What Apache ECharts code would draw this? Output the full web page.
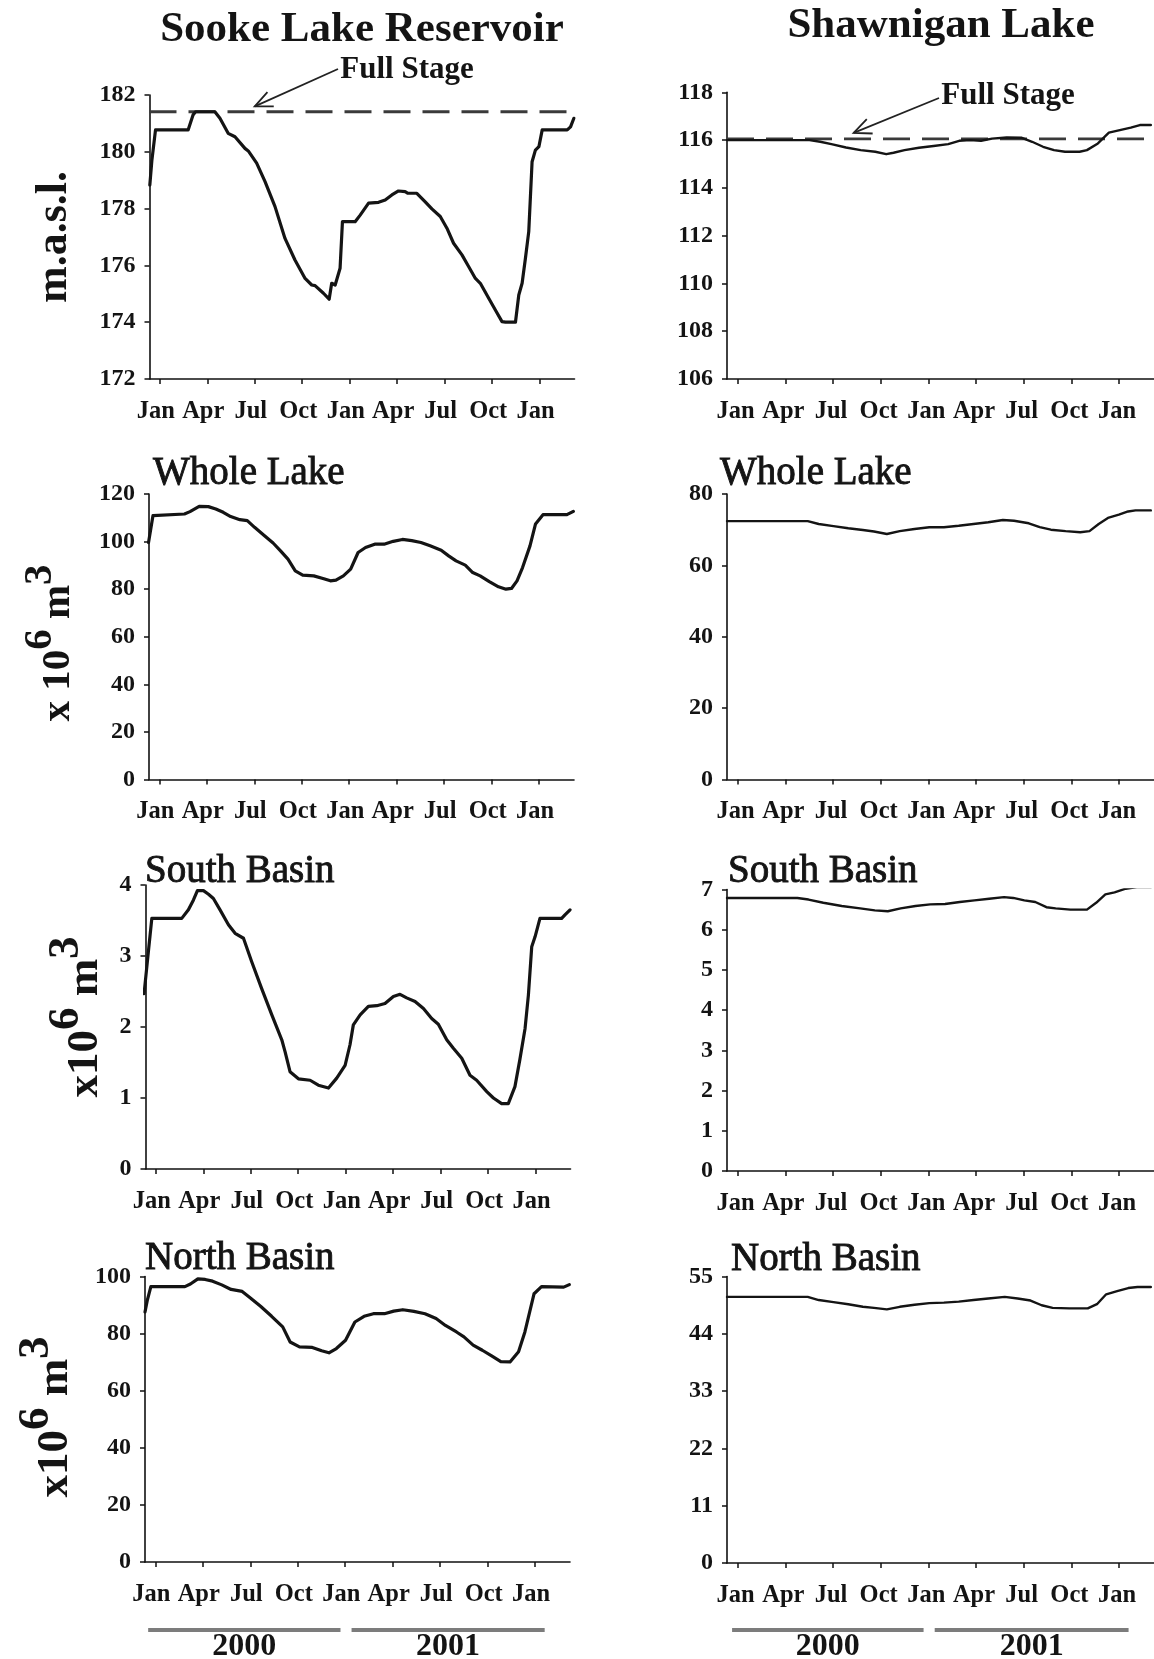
<!DOCTYPE html>
<html>
<head>
<meta charset="utf-8">
<title>Sooke Lake Reservoir and Shawnigan Lake</title>
<script src="https://cdn.jsdelivr.net/npm/echarts@6/dist/echarts.min.js"></script>
<style>
  html, body { margin: 0; padding: 0; background: #fff; }
  #chart { width: 1154px; height: 1659px; }
</style>
</head>
<body>
<div id="chart"></div>
<script>
// ---- axis tick labels (months since 1 Jan 2000) ----
const monthTicks = [0, 3, 6, 9, 12, 15, 18, 21, 24];
const monthLabels = ['Jan', 'Apr', 'Jul', 'Oct', 'Jan', 'Apr', 'Jul', 'Oct', 'Jan'];
const yearLabels = ['2000', '2001'];

// ---- full stage levels (m a.s.l.) ----
const sookeFullStage = 181.41;
const shawFullStage = 116.05;

// ---- Sooke Lake Reservoir: [month, value] ----
const sookeLevel = [
  [-0.63,178.83],[-0.5,179.7],[-0.27,180.77],[1.79,180.77],[2.1,181.3],[2.26,181.41],[3.48,181.41],
  [3.8,181.18],[4.32,180.65],[4.75,180.53],[5.38,180.12],[5.59,180.03],[6.12,179.6],[6.65,178.95],
  [7.28,178.07],[7.91,176.95],[8.54,176.19],[9.18,175.54],[9.6,175.31],[9.81,175.29],[10.34,175.02],
  [10.7,174.81],[10.86,175.37],[11.08,175.31],[11.39,175.9],[11.54,177.54],[12.34,177.54],[12.66,177.77],
  [13.19,178.19],[13.82,178.22],[14.24,178.3],[14.66,178.48],[15.08,178.62],[15.5,178.6],[15.68,178.54],
  [16.24,178.54],[16.77,178.24],[17.19,177.99],[17.72,177.72],[18.14,177.31],[18.56,176.78],[19.09,176.37],
  [19.51,175.96],[19.94,175.54],[20.25,175.37],[20.78,174.84],[21.2,174.43],[21.62,174.02],[21.84,174.0],
  [22.47,174.0],[22.68,174.96],[22.89,175.37],[23.1,176.25],[23.31,177.19],[23.52,179.65],[23.73,180.06],
  [23.95,180.18],[24.16,180.77],[25.74,180.77],[25.95,180.88],[26.16,181.18]
];
const sookeWhole = [
  [-0.68,99.6],[-0.4,110.9],[-0.28,111.6],[1.59,111.6],[1.94,112.6],[2.52,114.8],[3.1,114.7],[3.57,113.7],
  [4.04,112.3],[4.51,110.5],[5.09,109.2],[5.56,108.8],[6.02,106.0],[6.61,102.7],[7.19,99.4],[7.66,96.1],
  [8.13,92.6],[8.59,87.7],[9.06,85.9],[9.76,85.6],[10.34,84.5],[10.81,83.5],[11.16,83.8],[11.63,85.6],
  [12.09,88.4],[12.56,95.4],[13.03,97.5],[13.61,98.9],[14.2,98.9],[14.78,100.1],[15.36,100.9],[15.95,100.4],
  [16.53,99.6],[17.11,98.2],[17.81,96.4],[18.28,94.0],[18.75,91.9],[19.33,90.1],[19.8,87.0],[20.27,85.6],
  [20.85,83.2],[21.43,81.0],[21.9,80.0],[22.25,80.3],[22.6,83.5],[22.95,89.1],[23.42,98.2],[23.77,107.4],
  [24.24,111.3],[25.75,111.3],[26.16,112.7]
];
const sookeSouth = [
  [-0.74,2.47],[-0.46,3.08],[-0.25,3.53],[1.64,3.53],[2.06,3.65],[2.38,3.79],[2.63,3.92],[3.01,3.92],
  [3.33,3.87],[3.64,3.81],[4.06,3.65],[4.59,3.44],[5.01,3.32],[5.54,3.25],[6.06,2.92],[6.69,2.54],
  [7.33,2.17],[7.96,1.82],[8.17,1.65],[8.48,1.37],[9.01,1.27],[9.75,1.25],[10.27,1.18],[10.91,1.14],
  [11.43,1.28],[11.96,1.46],[12.27,1.75],[12.48,2.03],[12.91,2.17],[13.43,2.29],[13.96,2.30],[14.48,2.33],
  [15.01,2.43],[15.43,2.46],[15.85,2.41],[16.38,2.36],[16.91,2.26],[17.43,2.12],[17.85,2.04],[18.38,1.82],
  [18.8,1.70],[19.33,1.56],[19.85,1.32],[20.27,1.25],[20.91,1.09],[21.33,1.00],[21.85,0.92],[22.27,0.92],
  [22.69,1.16],[23.0,1.54],[23.33,1.98],[23.54,2.45],[23.75,3.13],[23.96,3.27],[24.27,3.53],[25.64,3.53],
  [25.85,3.58],[26.17,3.65]
];
const sookeNorth = [
  [-0.65,87.6],[-0.51,91.6],[-0.28,96.5],[1.87,96.5],[2.22,97.4],[2.69,99.2],[3.15,99.0],[3.62,98.4],
  [4.2,97.1],[4.79,95.5],[5.49,94.8],[5.95,92.8],[6.65,89.6],[7.35,86.1],[8.05,82.4],[8.52,77.1],
  [9.11,75.4],[9.92,75.2],[10.51,74.0],[10.97,73.3],[11.44,74.8],[12.02,77.7],[12.61,84.1],[13.19,86.1],
  [13.78,87.0],[14.48,87.0],[15.06,87.9],[15.64,88.4],[16.34,87.8],[17.04,87.0],[17.74,85.3],[18.33,82.9],
  [19.03,80.6],[19.5,78.9],[20.08,76.0],[20.66,74.2],[21.25,72.2],[21.83,70.2],[22.41,70.1],[22.95,73.7],
  [23.35,80.6],[23.93,94.0],[24.4,96.5],[25.8,96.3],[26.16,97.2]
];

// ---- Shawnigan Lake: [month, value] ----
const shawLevel = [
  [-0.67,116.0],[4.52,116.0],[5.2,115.93],[5.9,115.83],[6.82,115.69],[7.74,115.58],[8.66,115.51],
  [9.35,115.41],[9.81,115.47],[10.5,115.58],[11.41,115.68],[12.33,115.75],[13.25,115.83],[13.94,115.97],
  [14.63,116.0],[15.32,115.97],[16.01,116.06],[16.93,116.11],[17.85,116.10],[18.53,115.93],[19.22,115.72],
  [19.91,115.58],[20.6,115.51],[21.52,115.51],[21.98,115.58],[22.67,115.86],[23.36,116.31],[24.05,116.42],
  [24.74,116.52],[25.31,116.63],[26.0,116.63]
];
const shawWhole = [
  [-0.67,72.4],[4.41,72.4],[5.1,71.6],[6.03,71.0],[6.96,70.4],[7.88,69.9],[8.58,69.5],[9.39,68.8],
  [10.2,69.6],[11.13,70.2],[12.06,70.7],[12.98,70.7],[13.91,71.1],[14.84,71.6],[15.77,72.1],[16.69,72.7],
  [17.39,72.5],[18.32,71.8],[19.01,70.7],[19.71,70.0],[20.64,69.6],[21.56,69.3],[22.14,69.6],[22.72,71.6],
  [23.3,73.3],[23.99,74.2],[24.57,75.1],[25.04,75.4],[26.0,75.4]
];
const shawSouth = [
  [-0.67,6.79],[3.76,6.79],[4.46,6.75],[5.39,6.67],[6.55,6.59],[7.71,6.53],[8.63,6.48],[9.45,6.46],
  [10.26,6.53],[11.19,6.59],[12.12,6.63],[13.05,6.64],[13.98,6.69],[14.9,6.73],[15.83,6.77],[16.76,6.81],
  [17.34,6.79],[18.04,6.73],[18.73,6.69],[19.43,6.56],[20.01,6.53],[20.94,6.50],[21.98,6.50],[22.56,6.67],
  [23.14,6.88],[23.72,6.93],[24.42,7.02],[25.12,7.06],[26.0,7.06]
];
const shawNorth = [
  [-0.67,51.1],[4.41,51.1],[5.1,50.5],[6.03,50.1],[6.96,49.7],[7.88,49.2],[8.58,49.0],[9.39,48.7],
  [10.2,49.2],[11.13,49.6],[12.06,49.9],[12.98,50.0],[13.91,50.2],[14.84,50.5],[15.77,50.8],[16.81,51.1],
  [17.62,50.8],[18.43,50.4],[19.13,49.5],[19.82,49.0],[20.87,48.9],[22.03,48.9],[22.61,49.7],[23.19,51.6],
  [23.88,52.2],[24.58,52.8],[25.16,53.0],[26.0,53.0]
];

// ---- layout ----
const FONT = '"Liberation Serif","Times New Roman",serif';
const INK = '#141414';

const panels = [
  // left column: Sooke Lake Reservoir
  { box: { left: 149.5, top: 95,     width: 425, height: 284   }, x: [-0.65, 26.2], y: [172, 182, 2], data: sookeLevel, lw: 3.2, pad: 8 },
  { box: { left: 149,   top: 494,    width: 425, height: 285.5 }, x: [-0.65, 26.2], y: [0, 120, 20],   data: sookeWhole, lw: 3.2, pad: 8 },
  { box: { left: 145.5, top: 885,    width: 425, height: 284   }, x: [-0.65, 26.2], y: [0, 4, 1],      data: sookeSouth, lw: 3.2, pad: 8 },
  { box: { left: 145,   top: 1276.6, width: 425, height: 285.5 }, x: [-0.65, 26.2], y: [0, 100, 20],   data: sookeNorth, lw: 3.2, pad: 8 },
  // right column: Shawnigan Lake
  { box: { left: 727, top: 92.3,   width: 428, height: 286.7 }, x: [-0.67, 26.2], y: [106, 118, 2], data: shawLevel, lw: 2.4, pad: 4 },
  { box: { left: 727, top: 494,    width: 428, height: 285.5 }, x: [-0.67, 26.2], y: [0, 80, 20],   data: shawWhole, lw: 2.4, pad: 4 },
  { box: { left: 727, top: 889.5,  width: 428, height: 281.5 }, x: [-0.67, 26.2], y: [0, 7, 1],     data: shawSouth, lw: 2.4, pad: 4 },
  { box: { left: 727, top: 1276.6, width: 428, height: 286.4 }, x: [-0.67, 26.2], y: [0, 55, 11],   data: shawNorth, lw: 2.4, pad: 4 }
];

const axisLine = { show: true, onZero: false, lineStyle: { color: '#111', width: 1.6 } };
const axisTick = { show: true, inside: false, length: 5, lineStyle: { color: '#111', width: 1.5 } };

const grid = [], xAxis = [], yAxis = [], series = [];
panels.forEach((p, i) => {
  grid.push(Object.assign({ containLabel: false }, p.box));
  xAxis.push({
    type: 'value', gridIndex: i, min: p.x[0], max: p.x[1],
    axisLine, splitLine: { show: false },
    axisTick: Object.assign({ customValues: monthTicks }, axisTick),
    axisLabel: {
      customValues: monthTicks, margin: 20, padding: [0, p.pad, 0, 0],
      color: INK, fontFamily: FONT, fontWeight: 'bold', fontSize: 24.5,
      formatter: v => monthLabels[monthTicks.indexOf(Math.round(v))]
    }
  });
  yAxis.push({
    type: 'value', gridIndex: i, min: p.y[0], max: p.y[1], interval: p.y[2],
    axisLine, axisTick, splitLine: { show: false },
    axisLabel: { margin: 14, color: INK, fontFamily: FONT, fontWeight: 'bold', fontSize: 24 }
  });
  series.push({
    type: 'line', xAxisIndex: i, yAxisIndex: i, data: p.data,
    symbol: 'none', smooth: false, z: 3,
    lineStyle: { color: INK, width: p.lw, join: 'round', cap: 'round' }
  });
});

// full stage reference lines
series.push({
  type: 'line', xAxisIndex: 0, yAxisIndex: 0, symbol: 'none', z: 2,
  data: [[-0.65, sookeFullStage], [26.2, sookeFullStage]],
  lineStyle: { color: '#3a3a3a', width: 2.8, type: [27, 12] }
});
series.push({
  type: 'line', xAxisIndex: 4, yAxisIndex: 4, symbol: 'none', z: 2,
  data: [[-0.67, shawFullStage], [26.2, shawFullStage]],
  lineStyle: { color: '#3a3a3a', width: 2.6, type: [27, 12] }
});

const chart = echarts.init(document.getElementById('chart'), null, { renderer: 'canvas' });
chart.setOption({ animation: false, backgroundColor: '#fff', grid, xAxis, yAxis, series });

// ---- annotations ----
function px(gi, x, y) { return chart.convertToPixel({ gridIndex: gi }, [x, y]); }

function text(x, y, str, size, weight, align, heavy) {
  const style = { text: str, fill: INK, fontFamily: FONT, fontSize: size, fontWeight: weight,
                  align: align || 'center', verticalAlign: 'middle' };
  if (heavy) { style.stroke = INK; style.lineWidth = heavy; }
  return { type: 'text', x, y, z: 10, style };
}

function unitLabel(x, y, lead, size, raise) {
  return { type: 'text', x, y, rotation: Math.PI / 2, z: 10,
    style: {
      text: '{b|' + lead + '}{s|6}{b| m}{s|3}',
      align: 'center', verticalAlign: 'middle', fill: INK,
      rich: {
        b: { fontFamily: FONT, fontWeight: 'bold', fontSize: size, lineHeight: size + raise, verticalAlign: 'bottom', fill: INK },
        s: { fontFamily: FONT, fontWeight: 'bold', fontSize: size, lineHeight: size, verticalAlign: 'top', fill: INK }
      }
    } };
}

function arrow(tail, tip) {
  const dx = tail[0] - tip[0], dy = tail[1] - tip[1];
  const len = Math.hypot(dx, dy), ux = dx / len, uy = dy / len;
  const wing = 19, a = 24 * Math.PI / 180;
  const w1 = [tip[0] + wing * (ux * Math.cos(a) - uy * Math.sin(a)), tip[1] + wing * (ux * Math.sin(a) + uy * Math.cos(a))];
  const w2 = [tip[0] + wing * (ux * Math.cos(-a) - uy * Math.sin(-a)), tip[1] + wing * (ux * Math.sin(-a) + uy * Math.cos(-a))];
  const st = { stroke: '#222', lineWidth: 1.8, fill: null };
  return [
    { type: 'polyline', z: 10, shape: { points: [tail, tip] }, style: st },
    { type: 'polyline', z: 10, shape: { points: [w1, tip, w2] }, style: st }
  ];
}

function yearBars(gi, ranges, yBar, yText) {
  const out = [];
  ranges.forEach((r, k) => {
    const a = px(gi, r[0], 0)[0], b = px(gi, r[1], 0)[0];
    out.push({ type: 'line', z: 10, shape: { x1: a, y1: yBar, x2: b, y2: yBar },
               style: { stroke: '#7c7c7c', lineWidth: 4 } });
    out.push(text((a + b) / 2, yText, yearLabels[k], 32, 'bold'));
  });
  return out;
}

const graphic = [
  // column titles
  text(362, 30, 'Sooke Lake Reservoir', 43, 'bold'),
  text(941, 26, 'Shawnigan Lake', 43, 'bold'),
  // panel titles
  text(153, 474, 'Whole Lake', 39, 'normal', 'left', 0.9),
  text(720, 474, 'Whole Lake', 39, 'normal', 'left', 0.9),
  text(145, 872, 'South Basin', 39, 'normal', 'left', 0.9),
  text(728, 872, 'South Basin', 39, 'normal', 'left', 0.9),
  text(145, 1259, 'North Basin', 39, 'normal', 'left', 0.9),
  text(731, 1260, 'North Basin', 39, 'normal', 'left', 0.9),
  // full stage labels
  text(407, 70, 'Full Stage', 31, 'bold'),
  text(1008, 96, 'Full Stage', 31, 'bold'),
  // y axis names
  { type: 'text', x: 55, y: 237, rotation: Math.PI / 2, z: 10,
    style: { text: 'm.a.s.l.', fill: INK, fontFamily: FONT, fontWeight: 'bold', fontSize: 44,
             align: 'center', verticalAlign: 'middle' } },
  unitLabel(49, 643, 'x 10', 41, 18),
  unitLabel(76, 1017, 'x10', 45, 19),
  unitLabel(46, 1417, 'x10', 45, 19)
];

arrow([338, 69], px(0, 6.0, 181.6)).forEach(g => graphic.push(g));
arrow([939, 98], px(4, 7.3, 116.3)).forEach(g => graphic.push(g));

yearBars(3, [[-0.45, 11.7], [12.4, 24.6]], 1630, 1647).forEach(g => graphic.push(g));
yearBars(7, [[-0.35, 11.7], [12.4, 24.6]], 1630, 1647).forEach(g => graphic.push(g));

chart.setOption({ graphic });
</script>
</body>
</html>
